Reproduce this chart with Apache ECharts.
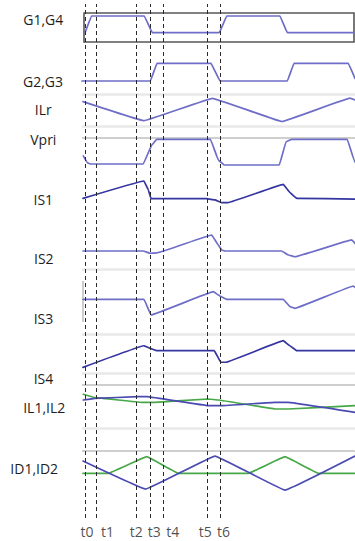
<!DOCTYPE html>
<html>
<head>
<meta charset="utf-8">
<script src="https://cdn.jsdelivr.net/npm/echarts@6/dist/echarts.min.js"></script>
<style>
html,body{margin:0;padding:0;background:#fff;}
#chart{width:355px;height:541px;}
</style>
</head>
<body>
<div id="chart"></div>
<script>
// ---------------- DATA ----------------
// time unit: arbitrary (t0 = 0); values: normalised amplitude per trace
const eventNames = ['t0','t1','t2','t3','t4','t5','t6'];
const eventTimes = [0, 11, 51.5, 65.3, 78.7, 122, 135.7];

const traceNames = ['G1,G4','G2,G3','ILr','Vpri','IS1','IS2','IS3','IS4','IL1,IL2','ID1,ID2'];

const g14  = [[0,0],[6.5,1],[59.3,1],[67.3,0],[134.3,0],[141.7,1],[195,1],[202.3,0],[269,0]];
const g23  = [[-3,0],[65.3,0],[72,1],[126,1],[135,0],[202.3,0],[209,1],[263.3,1],[270,0.15]];
const ilr  = [[-2,0.70],[59,-0.96],[127.5,0.99],[197,-1.03],[265,1.0],[270,0.85]];
const vpri = [[-1.7,0.34],[2.3,0.07],[5,0.02],[58.3,0.02],[66.7,0.77],[71.7,1.0],[125.5,1.0],[133.3,0.18],[139,-0.02],[194.3,-0.02],[201,0.9],[206.7,1.0],[262.3,1.0],[269,0.18],[270,0.1]];
const is1  = [[-2,0.02],[59,1.0],[63.3,0.5],[66,0],[121.7,0],[130,-0.07],[136.5,-0.22],[143,-0.22],[198.3,0.81],[205,0.34],[211.7,0.02],[270,-0.02]];
const is2  = [[-2,0],[58.3,0],[65,-0.14],[71.7,-0.12],[126.7,1.0],[133.3,0.38],[136.7,0.06],[140,0],[196.7,0],[203.3,-0.25],[210,-0.36],[266.7,0.69],[270,0.48]];
const is3  = [[-2,0],[59,0],[66,-0.785],[128.3,0.38],[135,0.165],[141.7,0],[198.3,0],[205,-0.37],[210,-0.45],[268.3,0.665],[270,0.6]];
const is4  = [[-2,-1.04],[59,0.31],[65,0.15],[71.7,0],[129.3,0],[135.7,-0.72],[141,-0.72],[198.3,0.625],[205,0.3],[211.7,0],[270,0]];
const il1  = [[-1.7,0.5],[10,0.67],[53.3,0.83],[61.7,0.83],[123.3,-0.07],[136.7,-0.07],[190,0.27],[203.3,0.27],[270,-0.73]];
const il2  = [[-1.7,1.07],[10,0.73],[56.7,0.27],[70,0.27],[123.3,0.6],[133.3,0.5],[190,-0.4],[203.3,-0.4],[270,-0.07]];
const id1  = [[-2,0.74],[60.7,-0.95],[130,1.04],[200,-1.01],[270,1.04]];
const id2  = [[-2,0],[23.3,0],[61.7,1.0],[93.3,0],[163.3,0],[200,1.0],[233.3,0],[270,0]];

// ---------------- LAYOUT / STYLE ----------------
const W = 355;
const T0_PX = 85;           // pixel column of t0
const LIGHT = '#6e6ec8', DARK = '#3535a2', MID = '#4a4ab2', GREEN = '#46a846';
const FAINT = '#e9e9e9', GREYLINE = '#cfcfcf';
const FONT = 'Open Sans';

const panels = [
  {top:13,    bottom:42,    left:84, right:1, yMin:-0.557, yMax:1.18,  frame:true, labelY:19.5, labelX:43.3},
  {top:57,    bottom:94.5,  yMin:-0.763, yMax:1.356, topEdge:FAINT, bottomEdge:FAINT, labelY:81, labelX:43},
  {top:94.5,  bottom:126,   yMin:-1.42,  yMax:1.32,  bottomEdge:FAINT, labelY:109.7, labelX:43.3},
  {top:137.7, bottom:177.3, yMin:-0.508, yMax:1.063, topEdge:GREYLINE, bottomEdge:FAINT, labelY:139, labelX:43.3},
  {top:177.3, bottom:218.3, yMin:-1.107, yMax:1.209, bottomEdge:FAINT, labelY:199.3, labelX:43.3},
  {top:229.3, bottom:269.3, yMin:-1.144, yMax:1.356, topEdge:GREYLINE, bottomEdge:FAINT, labelY:258, labelX:43.8},
  {top:281,   bottom:334.3, yMin:-1.75,  yMax:0.915, topEdge:GREYLINE, bottomEdge:FAINT, leftEdgeTo:-1.135, labelY:318, labelX:43.5},
  {top:334.3, bottom:373.3, yMin:-1.412, yMax:1.025, bottomEdge:FAINT, labelY:378, labelX:43.5},
  {top:385,   bottom:428.3, yMin:-2.33,  yMax:2.0,   topEdge:GREYLINE, bottomEdge:FAINT, labelY:407.5, labelX:44.2},
  {top:451,   bottom:496,   yMin:-1.367, yMax:1.343, topEdge:GREYLINE, bottomEdge:FAINT, labelY:468, labelX:34.2}
];
const traces = [
  [{d:g14, c:LIGHT}],
  [{d:g23, c:LIGHT}],
  [{d:ilr, c:LIGHT}],
  [{d:vpri, c:LIGHT}],
  [{d:is1, c:DARK}],
  [{d:is2, c:LIGHT}],
  [{d:is3, c:LIGHT}],
  [{d:is4, c:DARK}],
  [{d:il2, c:GREEN},{d:il1, c:MID}],
  [{d:id2, c:GREEN},{d:id1, c:MID}]
];
const labelOffsets = [2, 11.5, -0.3, 4, 9, -1.7, 2.7];

const grid = [], xAxis = [], yAxis = [], series = [], graphic = [];
panels.forEach((p, i) => {
  const left = p.left != null ? p.left : 82;
  const right = p.right != null ? p.right : 0;
  grid.push({left:left, right:right, top:p.top, height:p.bottom - p.top,
    show: !!p.frame, borderColor:'#575757', borderWidth:1.6, backgroundColor:'transparent'});
  xAxis.push({type:'value', gridIndex:i, show:false, min:left - T0_PX, max:(W - right) - T0_PX});
  yAxis.push({type:'value', gridIndex:i, show:false, min:p.yMin, max:p.yMax});
  const edges = [];
  if (p.topEdge) edges.push({yAxis:p.yMax, lineStyle:{color:p.topEdge, width: p.topEdge === FAINT ? 2.5 : 1.8, type:'solid'}});
  if (p.bottomEdge) edges.push({yAxis:p.yMin, lineStyle:{color:p.bottomEdge, width: p.bottomEdge === FAINT ? 2.5 : 1.8, type:'solid'}});
  if (p.leftEdgeTo != null) edges.push([{coord:[left - T0_PX + 0.5, p.yMax]},{coord:[left - T0_PX + 0.5, p.leftEdgeTo], lineStyle:{color:'#bdbdbd', width:1.5, type:'solid'}}]);
  traces[i].forEach((t, k) => {
    const s = {type:'line', xAxisIndex:i, yAxisIndex:i, data:t.d, showSymbol:false,
      smooth:0.05, smoothMonotone:'x', z:3,
      lineStyle:{color:t.c, width:1.7, join:'round', cap:'round'}, silent:true};
    if (k === 0 && edges.length) {
      s.markLine = {symbol:'none', silent:true, animation:false, label:{show:false}, z:1, data:edges};
    }
    series.push(s);
  });
  graphic.push({type:'text', x:p.labelX, y:p.labelY,
    style:{text:traceNames[i], fill:'#1e1e1e', font:'14px "' + FONT + '"', textAlign:'center', textVerticalAlign:'middle'}});
});

// overlay for dashed event lines and their labels
const ov = panels.length;
grid.push({left:82, right:0, top:4, bottom:23});
xAxis.push({type:'value', gridIndex:ov, show:false, min:82 - T0_PX, max:W - T0_PX});
yAxis.push({type:'value', gridIndex:ov, show:false, min:0, max:1});
series.push({
  type:'scatter', xAxisIndex:ov, yAxisIndex:ov, symbolSize:0, z:5, silent:true,
  data: eventTimes.map((t, k) => ({value:[t, 0], name:eventNames[k],
    label:{show:true, position:'inside', offset:[labelOffsets[k], 13], formatter:eventNames[k],
      color:'#1e1e1e', fontSize:14, fontFamily:FONT}})),
  markLine:{symbol:'none', silent:true, animation:false, label:{show:false},
    lineStyle:{color:'#2a2a2a', width:1, type:[4,3]},
    data: eventTimes.map(t => ({xAxis:t}))}
});

const chart = echarts.init(document.getElementById('chart'), null, {renderer:'svg'});
chart.setOption({animation:false, backgroundColor:'#fff', grid, xAxis, yAxis, series, graphic});
</script>
</body>
</html>
